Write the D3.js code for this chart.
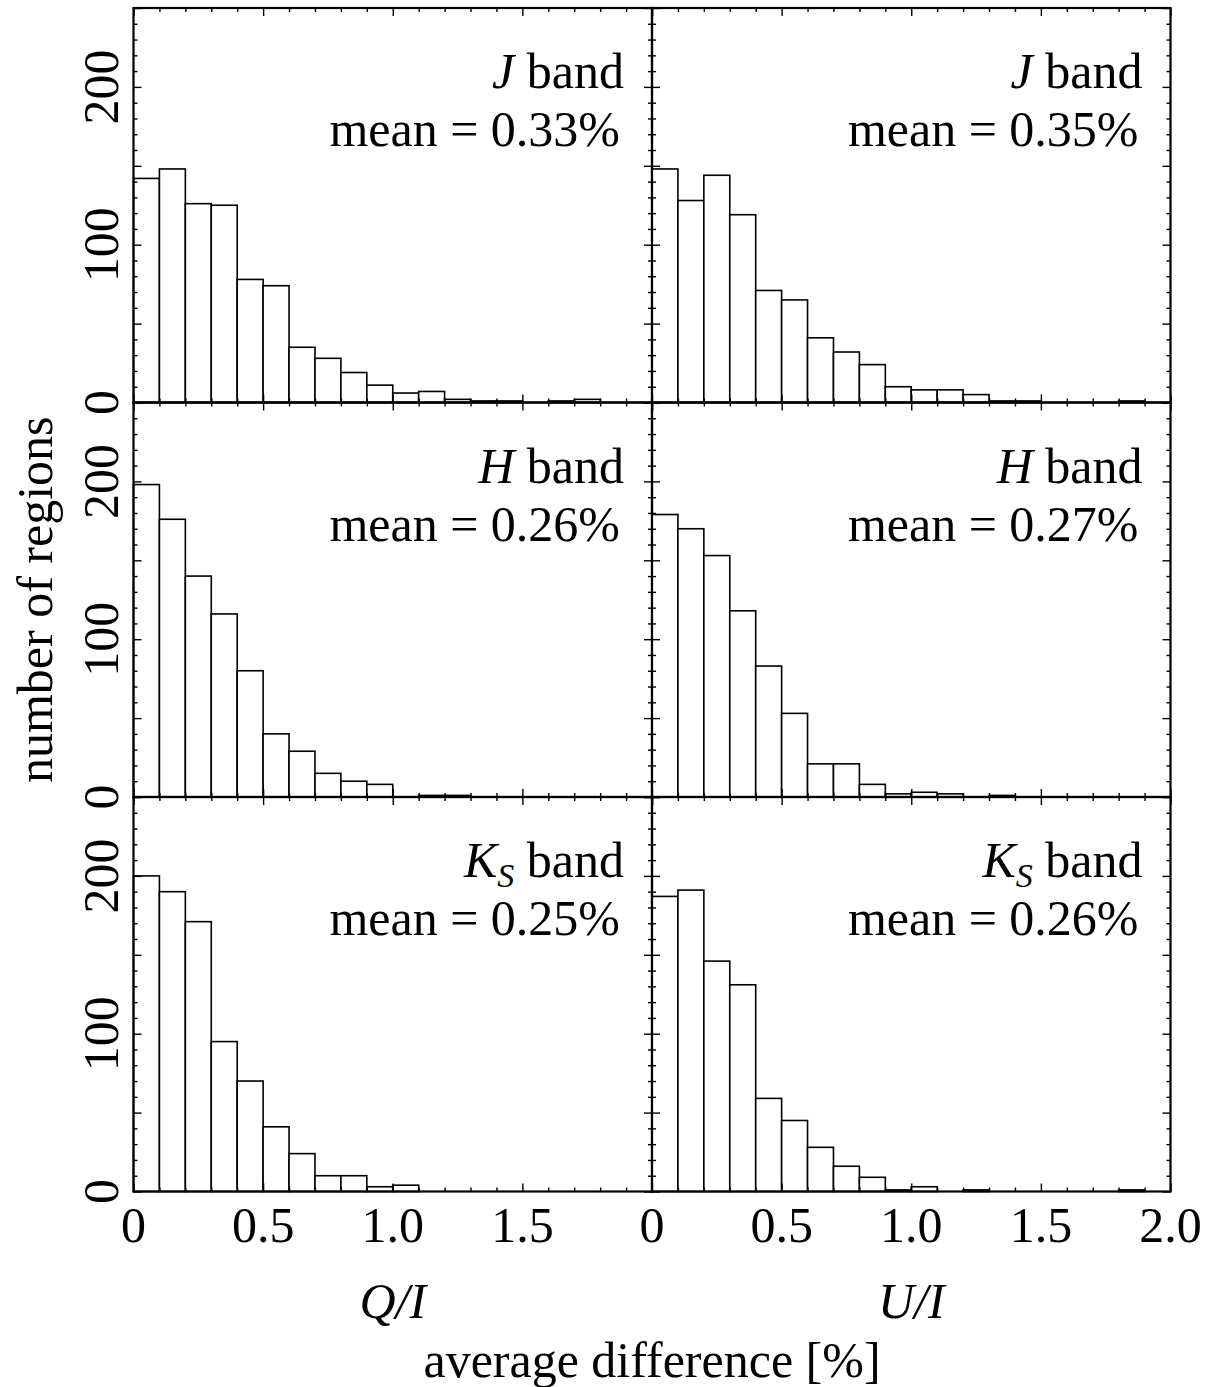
<!DOCTYPE html>
<html>
<head>
<meta charset="utf-8">
<script src="https://cdn.jsdelivr.net/npm/d3@7"></script>
<style>
  body { margin: 0; background: #fff; }
  svg { display: block; }
  text { font-family: "Liberation Serif", "Times New Roman", serif; fill: #000; }
</style>
</head>
<body>
<svg id="chart" width="1215" height="1387"></svg>
<script>
// Histogram bins: 0.1 % wide, from 0 to 2.0 %
const binEdges = d3.range(0, 20).map(i => i / 10);
const binWidth = 0.1;

// Counts of regions per bin, one array per band and Stokes ratio
const jQ  = [142, 148, 126, 125, 78, 74, 35, 28, 19, 11, 6, 7, 2, 1, 1, 0, 1, 2, 0, 0];
const jU  = [148, 128, 144, 119, 71, 65, 41, 32, 24, 10, 8, 8, 5, 1, 1, 0, 0, 0, 1, 0];
const hQ  = [198, 176, 140, 116, 80, 40, 29, 15, 10, 8, 0, 1, 1, 0, 0, 0, 0, 0, 0, 0];
const hU  = [179, 170, 153, 118, 83, 53, 21, 21, 8, 2, 3, 2, 0, 1, 0, 0, 0, 0, 0, 0];
const ksQ = [200, 190, 171, 95, 70, 41, 24, 10, 10, 3, 4, 0, 0, 0, 0, 0, 0, 0, 0, 0];
const ksU = [187, 191, 146, 131, 59, 45, 28, 16, 9, 1, 3, 0, 1, 0, 0, 0, 0, 0, 1, 0];

// Panel annotations
const bands = ["J", "H", "K"];
const meansQ = ["0.33%", "0.26%", "0.25%"];
const meansU = ["0.35%", "0.27%", "0.26%"];
const columnLabels = ["Q", "U"];

// Axis ticks
const yTickLabels = [0, 100, 200];
const xTickLabelsLeft = [0, 0.5, 1.0, 1.5];
const xTickLabelsRight = [0, 0.5, 1.0, 1.5, 2.0];

const rows = [[jQ, jU], [hQ, hU], [ksQ, ksU]];

const svg = d3.select("#chart");
const originX = 133.5, originY = 8;
const pw = 518.5, ph = 394.5;
const fontSize = 50;

const x = d3.scaleLinear().domain([0, 2]).range([0, pw]);
const y = d3.scaleLinear().domain([0, 250]).range([ph, 0]);

const xMajor = d3.range(0, 2.0001, 0.5);
const xMinor = d3.range(0, 2.0001, 0.1).filter(v => Math.abs(v * 2 - Math.round(v * 2)) > 1e-6);
const yMajor = d3.range(0, 251, 50);
const yMinor = d3.range(0, 251, 10).filter(v => v % 50 !== 0);
const fmtX = v => (v === 0 ? "0" : d3.format(".1f")(v));

rows.forEach((pair, r) => {
  pair.forEach((counts, c) => {
    const g = svg.append("g")
      .attr("transform", `translate(${originX + c * pw},${originY + r * ph})`);

    // bars
    g.selectAll("rect.bar")
      .data(counts.map((v, i) => ({ x0: binEdges[i], v })).filter(d => d.v > 0))
      .join("rect")
      .attr("class", "bar")
      .attr("x", d => x(d.x0))
      .attr("width", x(binWidth) - x(0))
      .attr("y", d => y(d.v))
      .attr("height", d => ph - y(d.v))
      .attr("fill", "#fff")
      .attr("stroke", "#000")
      .attr("stroke-width", 1.6);

    // inward ticks on all four sides
    const tickAxis = (axisFn, scale, vals, len, transform) => {
      const a = g.append("g")
        .attr("transform", transform)
        .call(axisFn(scale).tickValues(vals).tickSize(len).tickFormat(""));
      a.select(".domain").remove();
      a.selectAll(".tick line").attr("stroke", "#000").attr("stroke-width", 1.4);
    };
    tickAxis(d3.axisBottom, x, xMajor, -8, `translate(0,${ph})`);
    tickAxis(d3.axisBottom, x, xMinor, -4, `translate(0,${ph})`);
    tickAxis(d3.axisTop, x, xMajor, -8, "translate(0,0)");
    tickAxis(d3.axisTop, x, xMinor, -4, "translate(0,0)");
    tickAxis(d3.axisLeft, y, yMajor, -8, "translate(0,0)");
    tickAxis(d3.axisLeft, y, yMinor, -4, "translate(0,0)");
    tickAxis(d3.axisRight, y, yMajor, -8, `translate(${pw},0)`);
    tickAxis(d3.axisRight, y, yMinor, -4, `translate(${pw},0)`);

    // frame
    g.append("rect")
      .attr("width", pw).attr("height", ph)
      .attr("fill", "none").attr("stroke", "#000").attr("stroke-width", 2.2);

    // band label
    const bt = g.append("text")
      .attr("x", pw - 28).attr("y", 80)
      .attr("text-anchor", "end")
      .attr("font-size", fontSize);
    bt.append("tspan").attr("font-style", "italic").text(bands[r]);
    if (bands[r] === "K") {
      bt.append("tspan").attr("font-style", "italic")
        .attr("font-size", fontSize * 0.68).attr("dy", 10).text("S");
      bt.append("tspan").attr("dy", -10).text(" band");
    } else {
      bt.append("tspan").text(" band");
    }

    g.append("text")
      .attr("x", pw - 32).attr("y", 138)
      .attr("text-anchor", "end")
      .attr("font-size", fontSize)
      .text("mean = " + (c === 0 ? meansQ[r] : meansU[r]));

    // y tick labels on the left column
    if (c === 0) {
      g.selectAll("text.ylab")
        .data(yTickLabels)
        .join("text")
        .attr("class", "ylab")
        .attr("transform", d => `translate(-16,${y(d)}) rotate(-90)`)
        .attr("text-anchor", "middle")
        .attr("font-size", fontSize)
        .text(d => d);
    }

    // x tick labels on the bottom row
    if (r === rows.length - 1) {
      g.selectAll("text.xlab")
        .data(c === 0 ? xTickLabelsLeft : xTickLabelsRight)
        .join("text")
        .attr("class", "xlab")
        .attr("x", d => x(d))
        .attr("y", ph + 50)
        .attr("text-anchor", "middle")
        .attr("font-size", fontSize)
        .text(fmtX);

      g.append("text")
        .attr("x", x(1.0)).attr("y", ph + 126)
        .attr("text-anchor", "middle")
        .attr("font-size", fontSize)
        .attr("font-style", "italic")
        .text(columnLabels[c] + "/I");
    }
  });
});

// shared axis titles
svg.append("text")
  .attr("x", originX + pw).attr("y", 1377)
  .attr("text-anchor", "middle")
  .attr("font-size", fontSize)
  .text("average difference [%]");

svg.append("text")
  .attr("transform", `translate(52,${originY + 1.5 * ph}) rotate(-90)`)
  .attr("text-anchor", "middle")
  .attr("font-size", fontSize)
  .text("number of regions");
</script>
</body>
</html>
